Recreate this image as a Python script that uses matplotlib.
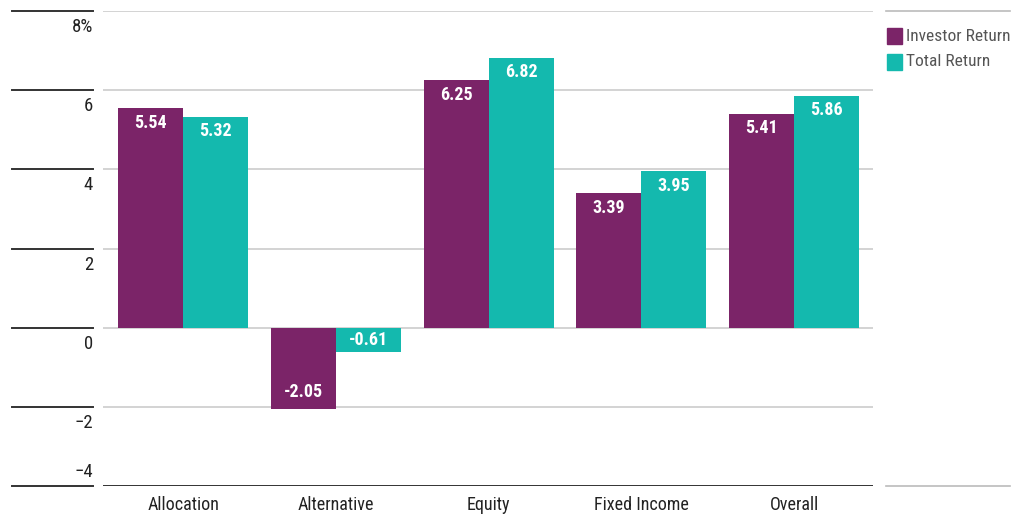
import matplotlib
import numpy as np

matplotlib.use("Agg")
import matplotlib.pyplot as plt
from matplotlib.lines import Line2D
from matplotlib.patches import Rectangle
from matplotlib.transforms import blended_transform_factory

categories = ["Allocation", "Alternative", "Equity", "Fixed Income", "Overall"]
investor_return = [5.54, -2.05, 6.25, 3.39, 5.41]
total_return = [5.32, -0.61, 6.82, 3.95, 5.86]
series_names = ["Investor Return", "Total Return"]
y_ticks = [8, 6, 4, 2, 0, -2, -4]
y_tick_labels = ["8%", "6", "4", "2", "0", "\u22122", "\u22124"]

PURPLE = "#7B2468"
TEAL = "#14B9AE"

plt.rcParams["font.family"] = ["Roboto Condensed", "DejaVu Sans"]

fig = plt.figure(figsize=(10.24, 5.15), dpi=100)
W, H = 1024, 515
ax = fig.add_axes([103 / W, (H - 486) / H, (873 - 103) / W, (486 - 11) / H])

x = np.arange(len(categories))
w = 0.4255
b1 = ax.bar(x - w / 2, investor_return, w, color=PURPLE, zorder=3)
b2 = ax.bar(x + w / 2, total_return, w, color=TEAL, zorder=3)

# value labels inside the bar ends
for bars, vals in ((b1, investor_return), (b2, total_return)):
    for r, v in zip(bars, vals):
        y = v - 0.36 if v > 0 else v + 0.43
        if v < 0 and abs(v) < 0.8:
            y = v / 2
        ax.text(r.get_x() + r.get_width() / 2, y, f"{v:.2f}", ha="center",
                va="center", color="white", fontsize=13, fontweight="bold",
                zorder=4)

ax.set_xlim(-0.524, len(categories) - 0.483)
ax.set_ylim(-4, 8)
for t in y_ticks[:-1]:
    ax.axhline(t, color="#cccccc", lw=1.2, zorder=1)
ax.axhline(-4, color="#333333", lw=1.4, zorder=1)
for s in ax.spines.values():
    s.set_visible(False)
ax.set_yticks([])
ax.set_xticks(x)
ax.set_xticklabels(categories, fontsize=13, color="#222222")
ax.tick_params(axis="x", length=0, pad=7)

# y tick segments and labels to the left of the plot
tr = blended_transform_factory(fig.transFigure, ax.transData)
for t, lab in zip(y_ticks, y_tick_labels):
    fig.add_artist(Line2D([12 / W, 93 / W], [t, t], transform=tr,
                          color="#333333", lw=1.4, clip_on=False))
    if t == -4:
        ax.text(93 / W, t + 0.12, lab, transform=tr, ha="right", va="bottom",
                fontsize=13.5, color="#222222")
    else:
        ax.text(93 / W, t - 0.18, lab, transform=tr, ha="right", va="top",
                fontsize=13.5, color="#222222")

# legend column
for t in (8, -4):
    fig.add_artist(Line2D([886 / W, 1010 / W], [t, t], transform=tr,
                          color="#bbbbbb", lw=1.2))
for i, (name, col) in enumerate(zip(series_names, [PURPLE, TEAL])):
    yc = 1 - (36 + 26 * i) / H
    fig.add_artist(Rectangle((887 / W, yc - 8 / H), 15 / W, 16 / H,
                             transform=fig.transFigure, color=col))
    fig.text(906 / W, yc, name, ha="left", va="center", fontsize=12.5,
             color="#555555")

fig.savefig("out.png", dpi=100)
